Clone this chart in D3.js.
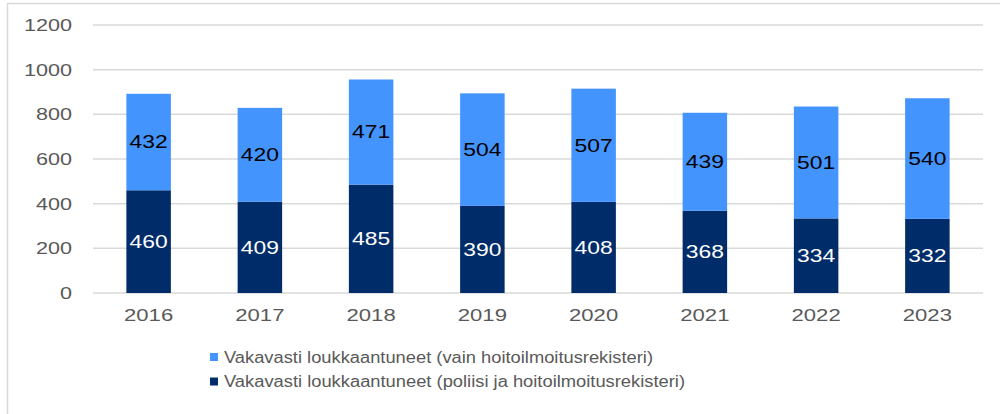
<!DOCTYPE html>
<html>
<head>
<meta charset="utf-8">
<script src="https://cdn.jsdelivr.net/npm/d3@7"></script>
<style>
  body { margin: 0; background: #fff; }
  text { font-family: "Liberation Sans", Arial, sans-serif; }
</style>
</head>
<body>
<div id="chart"></div>
<script>
var years = ["2016", "2017", "2018", "2019", "2020", "2021", "2022", "2023"];
// poliisi ja hoitoilmoitusrekisteri (bottom)
var bothValues = [460, 409, 485, 390, 408, 368, 334, 332];
// vain hoitoilmoitusrekisteri (top)
var onlyValues = [432, 420, 471, 504, 507, 439, 501, 540];
var yTicks = [0, 200, 400, 600, 800, 1000, 1200];
var legendLabels = [
  "Vakavasti loukkaantuneet (vain hoitoilmoitusrekisteri)",
  "Vakavasti loukkaantuneet (poliisi ja hoitoilmoitusrekisteri)"
];

var svgWidth = 1000;
var svgHeight = 414;
var margin = {top: 25, right: 17, bottom: 121, left: 93};
var width = svgWidth - margin.left - margin.right;
var height = svgHeight - margin.top - margin.bottom;

var darkBlue = "#002d69";
var lightBlue = "#4494fe";

var svg = d3.select("#chart")
    .append("svg")
    .attr("width", svgWidth)
    .attr("height", svgHeight);

// outer frame (only top and left visible)
svg.append("path")
    .attr("d", "M7.5,420 V3.5 H1010")
    .attr("fill", "none")
    .attr("stroke", "#d9d9d9")
    .attr("stroke-width", 1.5);

var chartGroup = svg.append("g")
    .attr("transform", `translate(${margin.left}, ${margin.top})`);

var xScale = d3.scaleBand()
    .domain(years)
    .range([0, width])
    .paddingInner(0.6)
    .paddingOuter(0.3);

var yScale = d3.scaleLinear()
    .domain([0, 1200])
    .range([height, 0]);

// gridlines
chartGroup.selectAll(".grid")
    .data(yTicks)
    .enter()
    .append("line")
    .attr("x1", 0)
    .attr("x2", width)
    .attr("y1", d => yScale(d))
    .attr("y2", d => yScale(d))
    .attr("stroke", "#d9d9d9")
    .attr("stroke-width", 1.5);

// y tick labels
chartGroup.selectAll(".ytick")
    .data(yTicks)
    .enter()
    .append("text")
    .attr("transform", d => `translate(-21, ${yScale(d)}) scale(1.27,1)`)
    .attr("dy", "0.35em")
    .attr("text-anchor", "end")
    .attr("font-size", 17)
    .attr("fill", "#595959")
    .text(d => d);

// x tick labels
chartGroup.selectAll(".xtick")
    .data(years)
    .enter()
    .append("text")
    .attr("transform", d => `translate(${xScale(d) + xScale.bandwidth() / 2}, ${height + 22}) scale(1.3,1)`)
    .attr("dy", "0.35em")
    .attr("text-anchor", "middle")
    .attr("font-size", 17)
    .attr("fill", "#595959")
    .text(d => d);

var rows = years.map((y, i) => ({year: y, both: bothValues[i], only: onlyValues[i]}));

// bottom bars
chartGroup.selectAll(".bar-both")
    .data(rows)
    .enter()
    .append("rect")
    .attr("x", d => xScale(d.year))
    .attr("width", xScale.bandwidth())
    .attr("y", d => yScale(d.both))
    .attr("height", d => yScale(0) - yScale(d.both))
    .attr("fill", darkBlue);

// top bars
chartGroup.selectAll(".bar-only")
    .data(rows)
    .enter()
    .append("rect")
    .attr("x", d => xScale(d.year))
    .attr("width", xScale.bandwidth())
    .attr("y", d => yScale(d.both + d.only))
    .attr("height", d => yScale(d.both) - yScale(d.both + d.only))
    .attr("fill", lightBlue);

// data labels
chartGroup.selectAll(".lab-both")
    .data(rows)
    .enter()
    .append("text")
    .attr("transform", d => `translate(${xScale(d.year) + xScale.bandwidth() / 2}, ${yScale(d.both / 2)}) scale(1.27,1)`)
    .attr("dy", "0.35em")
    .attr("text-anchor", "middle")
    .attr("font-size", 18)
    .attr("fill", "#ffffff")
    .text(d => d.both);

chartGroup.selectAll(".lab-only")
    .data(rows)
    .enter()
    .append("text")
    .attr("transform", d => `translate(${xScale(d.year) + xScale.bandwidth() / 2}, ${yScale(d.both + d.only / 2)}) scale(1.27,1)`)
    .attr("dy", "0.35em")
    .attr("text-anchor", "middle")
    .attr("font-size", 18)
    .attr("fill", "#000000")
    .text(d => d.only);

// legend
var legend = svg.append("g")
    .attr("transform", "translate(210, 357)");

var legendColors = [lightBlue, darkBlue];
var legendWidths = [429, 461];

legendLabels.forEach(function(label, i) {
  var row = legend.append("g")
      .attr("transform", `translate(0, ${i * 24.5})`);
  row.append("rect")
      .attr("x", 0)
      .attr("y", -4)
      .attr("width", 8)
      .attr("height", 8)
      .attr("fill", legendColors[i]);
  row.append("text")
      .attr("x", 14)
      .attr("y", 0)
      .attr("dy", "0.35em")
      .attr("font-size", 16)
      .attr("fill", "#595959")
      .attr("textLength", legendWidths[i])
      .attr("lengthAdjust", "spacingAndGlyphs")
      .text(label);
});
</script>
</body>
</html>
